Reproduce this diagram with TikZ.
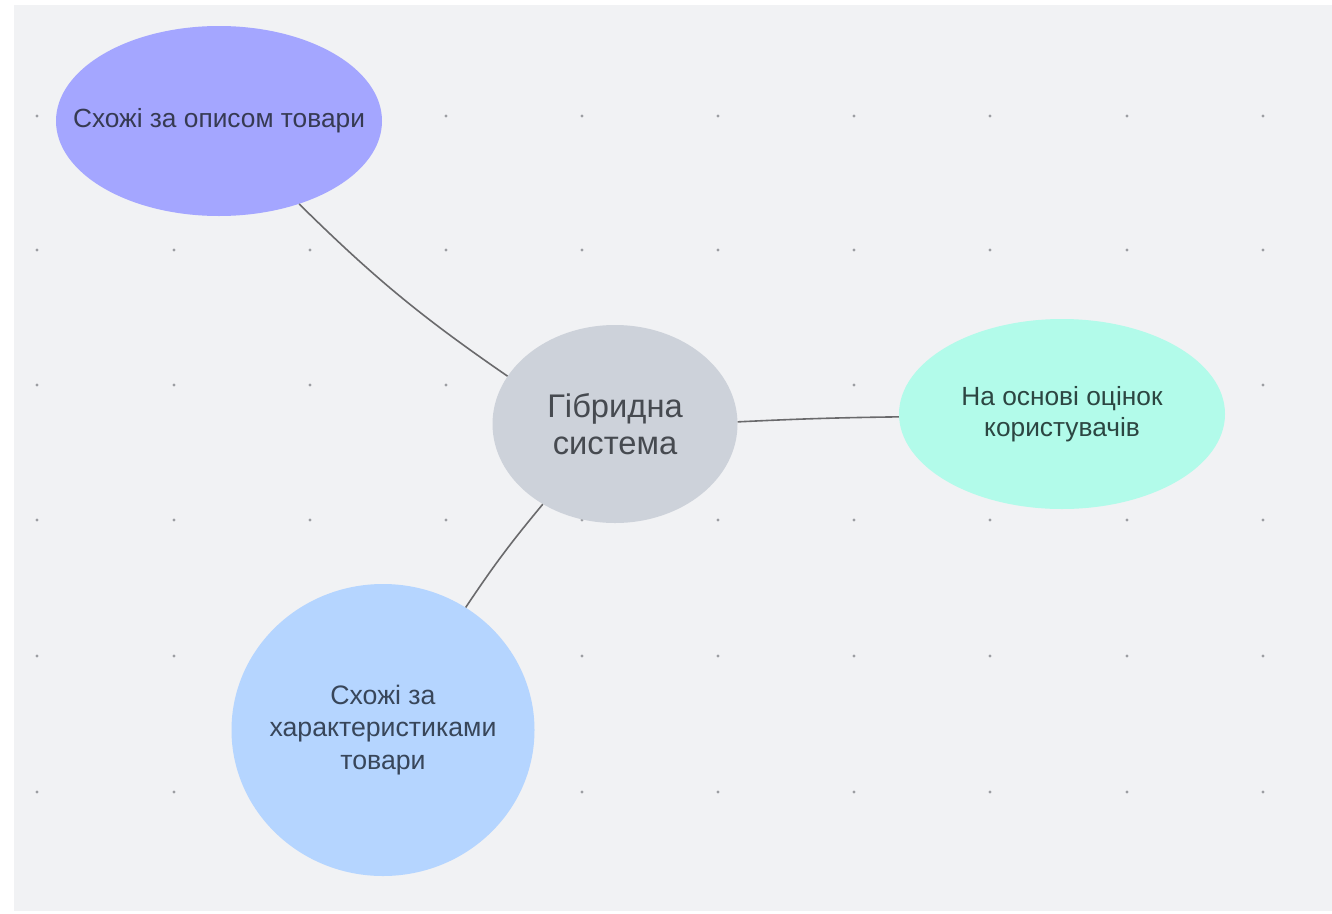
\documentclass[tikz,border=0pt]{standalone}
\usepackage{fontspec}
\setmainfont{Liberation Sans}
\usetikzlibrary{shapes.geometric}
\definecolor{bgpanel}{HTML}{F1F2F4}
\definecolor{dotcol}{HTML}{9C9EA2}
\definecolor{linecol}{HTML}{6A6A6C}
\definecolor{purplefill}{HTML}{A4A6FF}
\definecolor{grayfill}{HTML}{CDD2DA}
\definecolor{tealfill}{HTML}{B2FBEA}
\definecolor{bluefill}{HTML}{B5D5FF}
\definecolor{txtpurple}{HTML}{363A52}
\definecolor{txtgray}{HTML}{464A50}
\definecolor{txtteal}{HTML}{2C4642}
\definecolor{txtblue}{HTML}{38465A}
\tikzset{
  bubble/.style={ellipse, inner sep=0pt, draw=none},
  smalltext/.style={font=\fontsize{26.3}{31}\selectfont, align=center},
  bluetext/.style={font=\fontsize{26.7}{32.5}\selectfont, align=center},
  bigtext/.style={font=\fontsize{32.7}{37.5}\selectfont, align=center},
  connector/.style={draw=linecol, line width=1.6pt},
  griddot/.style={fill=dotcol, draw=none}
}
\begin{document}
\begin{tikzpicture}[x=1pt,y=-1pt]
\useasboundingbox (0,0) rectangle (1332,913);
\fill[white] (0,0) rectangle (1332,913);
\fill[bgpanel] (14,5) rectangle (1332,911);
% grid dots
\foreach \gx in {37,174,310,446,582,718,854,990,1127,1263}{
  \foreach \gy in {116,250,385,520,656,792}{
    \fill[griddot] (\gx,\gy) circle (1.7);
  }
}
% nodes
\node[bubble, fill=purplefill, minimum width=326, minimum height=190,
  label={[smalltext, text=txtpurple]center:Схожі за описом товари}] (desc) at (219,121) {};
\node[bubble, fill=grayfill, minimum width=245, minimum height=198,
  label={[bigtext, text=txtgray]center:{Гібридна\\система}}] (hyb) at (615,424) {};
\node[bubble, fill=tealfill, minimum width=326, minimum height=190,
  label={[smalltext, text=txtteal]center:{На основі оцінок\\користувачів}}] (rate) at (1062,414) {};
\node[bubble, fill=bluefill, minimum width=303, minimum height=292,
  label={[bluetext, text=txtblue]center:{Схожі за\\характеристиками\\товари}}] (feat) at (383,730) {};
% connectors
\draw[connector] (desc.-46) to[bend right=5] (hyb.156);
\draw[connector] (hyb.1) to[bend left=1] (rate.181);
\draw[connector] (hyb.228) to[bend right=3] (feat.56);
\end{tikzpicture}
\end{document}
